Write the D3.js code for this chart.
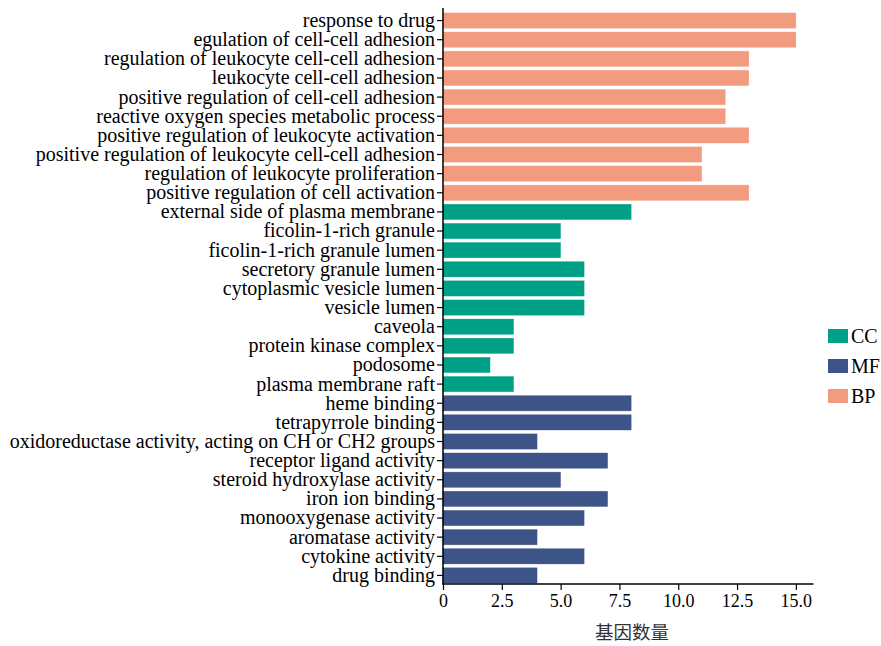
<!DOCTYPE html>
<html>
<head>
<meta charset="utf-8">
<script src="https://cdn.jsdelivr.net/npm/d3@7"></script>
<style>
  body { margin: 0; background: #fff; }
  svg { display: block; }
</style>
</head>
<body>
<svg id="chart" width="881" height="646"></svg>
<script>
// GO enrichment terms, top to bottom
const bpTerms = [
  "response to drug",
  "egulation of cell-cell adhesion",
  "regulation of leukocyte cell-cell adhesion",
  "leukocyte cell-cell adhesion",
  "positive regulation of cell-cell adhesion",
  "reactive oxygen species metabolic process",
  "positive regulation of leukocyte activation",
  "positive regulation of leukocyte cell-cell adhesion",
  "regulation of leukocyte proliferation",
  "positive regulation of cell activation"
];
const bpCounts = [15, 15, 13, 13, 12, 12, 13, 11, 11, 13];

const ccTerms = [
  "external side of plasma membrane",
  "ficolin-1-rich granule",
  "ficolin-1-rich granule lumen",
  "secretory granule lumen",
  "cytoplasmic vesicle lumen",
  "vesicle lumen",
  "caveola",
  "protein kinase complex",
  "podosome",
  "plasma membrane raft"
];
const ccCounts = [8, 5, 5, 6, 6, 6, 3, 3, 2, 3];

const mfTerms = [
  "heme binding",
  "tetrapyrrole binding",
  "oxidoreductase activity, acting on CH or CH2 groups",
  "receptor ligand activity",
  "steroid hydroxylase activity",
  "iron ion binding",
  "monooxygenase activity",
  "aromatase activity",
  "cytokine activity",
  "drug binding"
];
const mfCounts = [8, 8, 4, 7, 5, 7, 6, 4, 6, 4];

const legendOrder = ["CC", "MF", "BP"];
const xTicks = [0, 2.5, 5, 7.5, 10, 12.5, 15];
const xLabel = "基因数量";

const colors = { BP: "#F39B7F", CC: "#00A087", MF: "#3C5488" };

const rows = [
  ...bpTerms.map((t, i) => ({ term: t, count: bpCounts[i], cat: "BP" })),
  ...ccTerms.map((t, i) => ({ term: t, count: ccCounts[i], cat: "CC" })),
  ...mfTerms.map((t, i) => ({ term: t, count: mfCounts[i], cat: "MF" }))
];

const svg = d3.select("#chart");
const plotLeft = 443, plotRight = 813.5, plotTop = 11, plotBottom = 585;
const serif = "Liberation Serif, Times New Roman, serif";

const x = d3.scaleLinear().domain([0, 15.75]).range([plotLeft, plotRight]);
const y = d3.scaleBand()
  .domain(rows.map(d => d.term))
  .range([plotTop, plotBottom])
  .paddingInner(0.2)
  .paddingOuter(0.1);

// bars
svg.append("g")
  .selectAll("rect")
  .data(rows)
  .join("rect")
  .attr("x", x(0))
  .attr("y", d => y(d.term))
  .attr("width", d => x(d.count) - x(0))
  .attr("height", y.bandwidth())
  .attr("fill", d => colors[d.cat])
  .attr("stroke", d => colors[d.cat])
  .attr("stroke-opacity", 0.5)
  .attr("stroke-width", 0.6);

// y axis
const yAxis = svg.append("g")
  .attr("transform", `translate(${plotLeft},0)`)
  .call(d3.axisLeft(y).tickSize(6).tickPadding(2));
yAxis.select(".domain").remove();
yAxis.selectAll("text").attr("font-size", 20).attr("fill", "#000")
  .attr("font-family", serif);
yAxis.selectAll("line").attr("stroke", "#000").attr("stroke-width", 1.2);
svg.append("line")
  .attr("x1", plotLeft).attr("x2", plotLeft)
  .attr("y1", 8).attr("y2", 584.5)
  .attr("stroke", "#000").attr("stroke-width", 1.5);

// x axis
const xAxis = svg.append("g")
  .attr("transform", `translate(0,584)`)
  .call(d3.axisBottom(x).tickValues(xTicks)
    .tickFormat(d => d === 0 ? "0" : d3.format(".1f")(d))
    .tickSize(6).tickPadding(4));
xAxis.select(".domain").remove();
xAxis.selectAll("text").attr("font-size", 18).attr("fill", "#000")
  .attr("font-family", serif);
xAxis.selectAll("line").attr("stroke", "#000").attr("stroke-width", 1.2);
svg.append("line")
  .attr("x1", plotLeft - 0.75).attr("x2", plotRight)
  .attr("y1", 584).attr("y2", 584)
  .attr("stroke", "#000").attr("stroke-width", 1.5);

// axis title
svg.append("text")
  .attr("x", 632)
  .attr("y", 639)
  .attr("text-anchor", "middle")
  .attr("font-family", "Noto Sans CJK SC, sans-serif")
  .attr("font-size", 18.5)
  .attr("fill", "#333")
  .text(xLabel);

// legend
const legend = svg.append("g").attr("transform", "translate(828,329)");
legendOrder.forEach((k, i) => {
  const g = legend.append("g").attr("transform", `translate(0,${i * 30})`);
  g.append("rect").attr("width", 20).attr("height", 14).attr("fill", colors[k]);
  g.append("text")
    .attr("x", 23).attr("y", 14)
    .attr("font-family", serif)
    .attr("font-size", 20)
    .attr("fill", "#000")
    .text(k);
});
</script>
</body>
</html>
